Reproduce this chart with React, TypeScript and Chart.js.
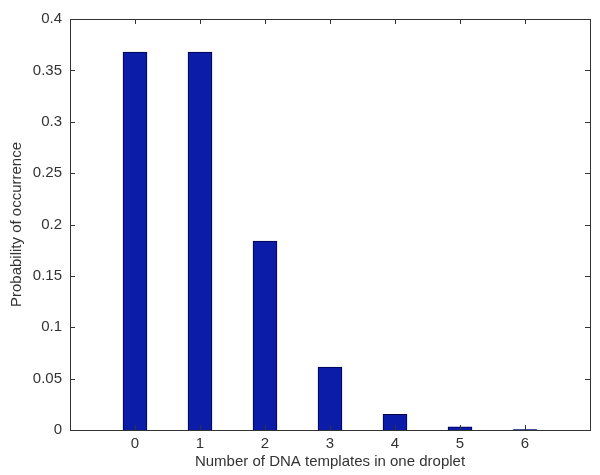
import React, { useRef, useEffect } from 'react';
import { Chart, registerables, type Plugin } from 'chart.js';

Chart.register(...registerables);

// Poisson-like probabilities
const droplets = [0, 1, 2, 3, 4, 5, 6];
const probabilities = [0.3679, 0.3679, 0.1839, 0.0613, 0.0153, 0.0031, 0.0005];
const xTicks = [0, 1, 2, 3, 4, 5, 6];
const yTicks = [0, 0.05, 0.1, 0.15, 0.2, 0.25, 0.3, 0.35, 0.4];

const FONT = '"Liberation Sans", Arial, sans-serif';
const AXIS_COLOR = '#333333';

// MATLAB-style box with ticks pointing inwards on all four sides
const boxPlugin: Plugin<'bar'> = {
  id: 'matlabBox',
  afterDraw(chart) {
    const { ctx, chartArea } = chart;
    const { left, right, top, bottom } = chartArea;
    const x = chart.scales.x;
    const y = chart.scales.y;
    const len = 5;
    ctx.save();
    ctx.strokeStyle = AXIS_COLOR;
    ctx.lineWidth = 1;
    ctx.beginPath();
    xTicks.forEach((v) => {
      const px = Math.round(x.getPixelForValue(v)) + 0.5;
      ctx.moveTo(px, bottom);
      ctx.lineTo(px, bottom - len);
      ctx.moveTo(px, top);
      ctx.lineTo(px, top + len);
    });
    yTicks.forEach((v) => {
      const py = Math.round(y.getPixelForValue(v)) + 0.5;
      ctx.moveTo(left, py);
      ctx.lineTo(left + len, py);
      ctx.moveTo(right, py);
      ctx.lineTo(right - len, py);
    });
    ctx.stroke();
    ctx.strokeRect(Math.round(left) + 0.5, Math.round(top) + 0.5, Math.round(right - left), Math.round(bottom - top));
    ctx.restore();
  }
};

const App: React.FC = () => {
  const canvasRef = useRef<HTMLCanvasElement>(null);

  useEffect(() => {
    document.body.style.margin = '0';
    if (!canvasRef.current) return;

    const chart = new Chart(canvasRef.current, {
      type: 'bar',
      data: {
        datasets: [
          {
            data: droplets.map((d, i) => ({ x: d, y: probabilities[i] })),
            backgroundColor: '#0a1ca8',
            borderColor: '#00004a',
            borderWidth: 1,
            barThickness: 24
          }
        ]
      },
      options: {
        responsive: true,
        maintainAspectRatio: false,
        animation: false,
        layout: { padding: { top: 19, right: 10, left: 0, bottom: 0 } },
        plugins: {
          legend: { display: false },
          tooltip: { enabled: false }
        },
        scales: {
          x: {
            type: 'linear',
            min: -1,
            max: 7,
            offset: false,
            grid: { display: false, drawTicks: false },
            border: { display: false },
            afterBuildTicks: (scale) => {
              scale.ticks = xTicks.map((v) => ({ value: v }));
            },
            afterFit: (scale) => {
              scale.height = 45;
            },
            ticks: {
              padding: 5,
              color: AXIS_COLOR,
              font: { family: FONT, size: 15 },
              maxRotation: 0,
              callback: (v) => String(v)
            },
            title: {
              display: true,
              text: 'Number of DNA templates in one droplet',
              color: AXIS_COLOR,
              font: { family: FONT, size: 15 },
              padding: { top: 0, bottom: 4 }
            }
          },
          y: {
            type: 'linear',
            min: 0,
            max: 0.4,
            grid: { display: false, drawTicks: false },
            border: { display: false },
            afterBuildTicks: (scale) => {
              scale.ticks = yTicks.map((v) => ({ value: v }));
            },
            afterFit: (scale) => {
              scale.width = 70;
            },
            ticks: {
              padding: 8,
              color: AXIS_COLOR,
              font: { family: FONT, size: 15 },
              callback: (v) => String(+Number(v).toFixed(2))
            },
            title: {
              display: true,
              text: 'Probability of occurrence',
              color: AXIS_COLOR,
              font: { family: FONT, size: 15 },
              padding: { top: 8, bottom: 0 }
            }
          }
        }
      },
      plugins: [boxPlugin]
    });

    return () => chart.destroy();
  }, []);

  return (
    <div style={{ position: 'relative', width: 600, height: 475, background: '#ffffff' }}>
      <canvas ref={canvasRef} />
    </div>
  );
};

export default App;
